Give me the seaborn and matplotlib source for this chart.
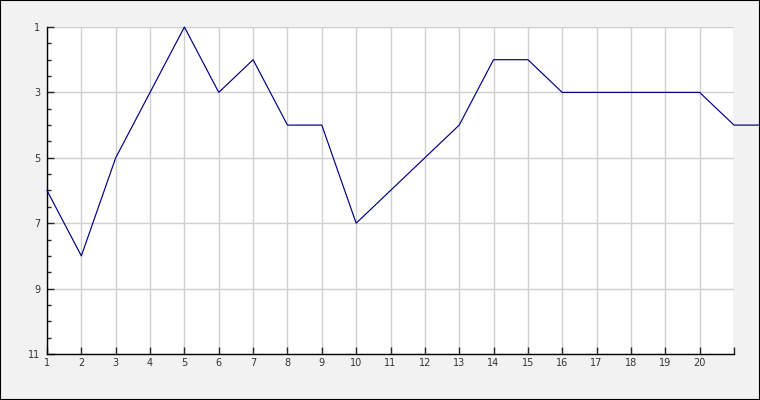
import matplotlib
matplotlib.use("Agg")
import matplotlib.pyplot as plt
import seaborn as sns
import pandas as pd
from matplotlib.ticker import MultipleLocator, FixedLocator

x_vals = list(range(1, 23))
ranks = [6, 8, 5, 3, 1, 3, 2, 4, 4, 7, 6, 5, 4, 2, 2, 3, 3, 3, 3, 3, 4, 4]
x_tick_labels = [str(i) for i in range(1, 21)] + [""]
y_ticks = [1, 3, 5, 7, 9, 11]

sns.set_style("white")
plt.rcParams['font.family'] = ['DejaVu Sans']

fig = plt.figure(figsize=(7.6, 4.0), dpi=100, facecolor="#f2f2f2")
ax = fig.add_axes([47/760, 1-354/400, (734-47)/760, (354-27)/400])
ax.set_facecolor("white")

df = pd.DataFrame({"x": x_vals, "rank": ranks})
sns.lineplot(data=df, x="x", y="rank", ax=ax, color="#000080", linewidth=0.85,
             clip_on=False, zorder=5)

ax.set_xlim(1, 21)
ax.set_ylim(11, 1)
ax.xaxis.set_major_locator(FixedLocator(list(range(1, 22))))
ax.set_xticklabels(x_tick_labels)
ax.yaxis.set_major_locator(FixedLocator(y_ticks))
ax.yaxis.set_minor_locator(MultipleLocator(0.5))
ax.set_xlabel("")
ax.set_ylabel("")

ax.grid(True, which="major", color="#d0d0d0", linewidth=1.0)
ax.set_axisbelow(True)

for s in ["top", "right"]:
    ax.spines[s].set_visible(False)
for s in ["left", "bottom"]:
    ax.spines[s].set_color("black")
    ax.spines[s].set_linewidth(1.0)

ax.tick_params(axis="x", which="major", direction="in", length=5, width=1,
               labelsize=7, labelcolor="#333333", pad=3, bottom=True)
ax.tick_params(axis="y", which="major", direction="in", length=5, width=1,
               labelsize=7, labelcolor="#333333", pad=5, left=True)
ax.tick_params(axis="y", which="minor", direction="in", length=3, width=1, left=True)

# figure border
fig.patches.append(plt.Rectangle((0, 0), 1, 1, transform=fig.transFigure,
                                 fill=False, edgecolor="black", linewidth=1.5))

fig.savefig("out.png", dpi=100, facecolor=fig.get_facecolor())
